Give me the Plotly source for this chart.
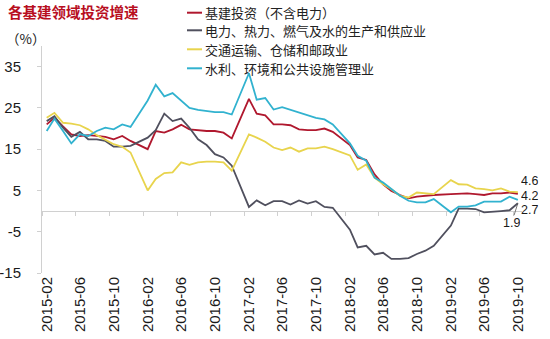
import pandas as pd
import plotly.graph_objects as go

# ---- data ----
months = (
    ["2015-%02d" % m for m in range(2, 13)] +
    ["2016-%02d" % m for m in range(2, 13)] +
    ["2017-%02d" % m for m in range(2, 13)] +
    ["2018-%02d" % m for m in range(2, 13)] +
    ["2019-%02d" % m for m in range(2, 11)]
)

infra_ex_power = [
    21.0, 22.6, 20.5, 18.6, 18.2, 18.4, 18.2, 18.0, 17.4, 18.2, 17.0,
    15.0, 19.4, 19.0, 19.8, 20.9, 19.8, 19.6, 19.4, 19.4, 19.0, 17.6,
    27.2, 23.6, 23.2, 21.0, 21.0, 20.8, 19.8, 19.6, 19.6, 20.0, 19.2,
    16.0, 13.0, 12.4, 8.9, 6.5, 4.9, 3.9, 3.1, 3.5, 3.7, 3.9,
    4.1, 4.2, 4.3, 4.1, 3.9, 4.3, 4.3, 4.5, 4.2,
]
power_utilities = [
    21.8, 23.0, 20.2, 18.0, 19.2, 17.4, 17.4, 17.0, 15.6, 15.6, 15.8,
    17.8, 19.6, 23.6, 21.8, 22.4, 20.2, 17.4, 16.0, 13.8, 13.0, 11.0,
    1.0, 2.6, 1.4, 2.4, 2.4, 1.6, 2.6, 1.8, 2.4, 1.0, 0.8,
    -4.5, -8.8, -8.4, -10.5, -10.1, -11.6, -11.6, -11.4, -10.4, -9.6, -8.4,
    -3.5, 0.6, 0.6, 0.5, -0.3, -0.2, 0.0, 0.2, 1.9,
]
transport = [
    22.6, 23.8, 21.4, 21.2, 20.8, 19.8, 18.4, 17.2, 16.2, 15.6, 14.2,
    5.0, 7.8, 9.2, 9.4, 11.8, 11.2, 11.8, 12.0, 12.0, 11.8, 9.8,
    18.6, 17.8, 16.8, 15.4, 14.8, 15.4, 14.4, 15.2, 15.2, 15.6, 15.0,
    13.5, 10.0, 11.3, 8.1, 6.5, 5.3, 3.7, 3.3, 4.5, 4.3, 4.1,
    7.5, 6.5, 6.4, 5.5, 5.3, 5.0, 5.5, 4.7, 4.6,
]
water_env = [
    19.4, 22.4, 19.4, 16.4, 18.6, 18.2, 19.4, 20.2, 19.8, 21.0, 20.4,
    26.8, 30.6, 27.8, 28.6, 26.8, 25.0, 24.5, 24.2, 24.0, 24.0, 23.4,
    33.4, 27.0, 27.4, 24.6, 25.2, 24.6, 23.8, 23.2, 22.6, 22.2, 21.0,
    16.4, 13.4, 12.2, 8.1, 6.9, 5.3, 3.7, 2.5, 2.1, 2.1, 2.9,
    -0.3, 1.1, 1.1, 1.4, 2.3, 2.3, 2.3, 3.5, 2.7,
]

tick_labels = ["2015-02", "2015-06", "2015-10", "2016-02", "2016-06", "2016-10",
               "2017-02", "2017-06", "2017-10", "2018-02", "2018-06", "2018-10",
               "2019-02", "2019-06", "2019-10"]
y_ticks = [-15, -5, 5, 15, 25, 35]

series_names = ["基建投资（不含电力）", "电力、热力、燃气及水的生产和供应业",
                "交通运输、仓储和邮政业", "水利、环境和公共设施管理业"]
series_vals = [infra_ex_power, power_utilities, transport, water_env]
series_colors = ["#B0182E", "#50505E", "#E8D44D", "#31B2CF"]

# ---- figure ----
W, H = 550, 339
L, R, T, B = 42, 28, 46, 66
PW, PH = W - L - R, H - T - B


def px_x(p):
    return (p - L) / PW


def px_y(p):
    return (H - B - p) / PH


x = pd.to_datetime(months)
tick_dates = pd.to_datetime(tick_labels)
between_ticks = tick_dates - pd.Timedelta(days=15)

fig = go.Figure()
for name, vals, col in zip(series_names, series_vals, series_colors):
    fig.add_trace(go.Scatter(x=x, y=vals, name=name, mode="lines", showlegend=False,
                             line=dict(color=col, width=1.8)))

cjk = "Noto Sans CJK SC"
num_font = dict(family="Liberation Sans, Arial", size=15, color="#1a1a1a")
end_font = dict(family="Liberation Sans, Arial", size=12.5, color="#1a1a1a")

fig.update_layout(
    width=W, height=H,
    margin=dict(l=L, r=R, t=T, b=B, autoexpand=False),
    paper_bgcolor="white", plot_bgcolor="white",
    title=dict(text="<b>各基建领域投资增速</b>", xref="container", yref="container",
               x=8 / W, y=1 - 13 / H, xanchor="left", yanchor="middle",
               font=dict(family=cjk, size=14.5, color="#B80F1F")),
    showlegend=False,
    xaxis=dict(type="date", range=["2015-01-15", "2019-10-16"], automargin=False,
               tickvals=tick_dates, ticktext=tick_labels, tickangle=-90,
               tickfont=num_font, showgrid=False, zeroline=False,
               showline=False, ticks=""),
    xaxis2=dict(type="date", range=["2015-01-15", "2019-10-16"], overlaying="x",
                anchor="free", position=15 / 55, tickvals=between_ticks, automargin=False,
                showticklabels=False, ticks="outside", ticklen=4,
                tickcolor="#d0d0d0", showgrid=False, zeroline=False, showline=False),
    yaxis=dict(range=[-15, 40], tickvals=y_ticks, ticktext=[str(v) for v in y_ticks],
               tickfont=num_font, automargin=False, ticklabelstandoff=13,
               showgrid=False, showline=True, linecolor="#d0d0d0", linewidth=1,
               ticks="outside", ticklen=4, tickcolor="#d0d0d0",
               zeroline=True, zerolinecolor="#d0d0d0", zerolinewidth=1),
)

# invisible trace so the between-category tick axis is drawn
fig.add_trace(go.Scatter(x=[x[0]], y=[None], xaxis="x2", showlegend=False,
                         hoverinfo="skip"))

# legend (line sample + text), rows as in the reference
legend_rows_y = [12.7, 30.3, 49.3, 68.3]
for name, col, yc in zip(series_names, series_colors, legend_rows_y):
    fig.add_shape(type="line", xref="paper", yref="paper",
                  x0=px_x(187), x1=px_x(202), y0=px_y(yc), y1=px_y(yc),
                  line=dict(color=col, width=2))
    fig.add_annotation(text=name, xref="paper", yref="paper",
                       x=px_x(203), y=px_y(yc), xanchor="left", yanchor="middle",
                       showarrow=False, font=dict(family=cjk, size=13, color="#222"))

fig.add_annotation(text="（%）", xref="paper", yref="paper",
                   x=px_x(4), y=px_y(38), xanchor="left", yanchor="middle",
                   showarrow=False, font=dict(family=cjk, size=13.5, color="#222"))

# end-value labels (compact boxes so the stacked labels do not collide)
last_x = x[-1]
label_shift = {2: 11.5, 0: -1.5, 3: -9.5}
for idx, ys in label_shift.items():
    v = series_vals[idx][-1]
    fig.add_annotation(x=last_x, y=v, text=f"{v:.1f}", showarrow=False,
                       xanchor="left", yanchor="middle", xshift=2, yshift=ys,
                       height=13, borderpad=0, font=end_font)
v = series_vals[1][-1]
fig.add_annotation(x=last_x, y=v, text=f"{v:.1f}", showarrow=True, arrowhead=0,
                   arrowwidth=0.8, arrowcolor="#555", ax=-6, ay=19,
                   height=13, borderpad=0, font=end_font)

fig.write_html("out.html")
